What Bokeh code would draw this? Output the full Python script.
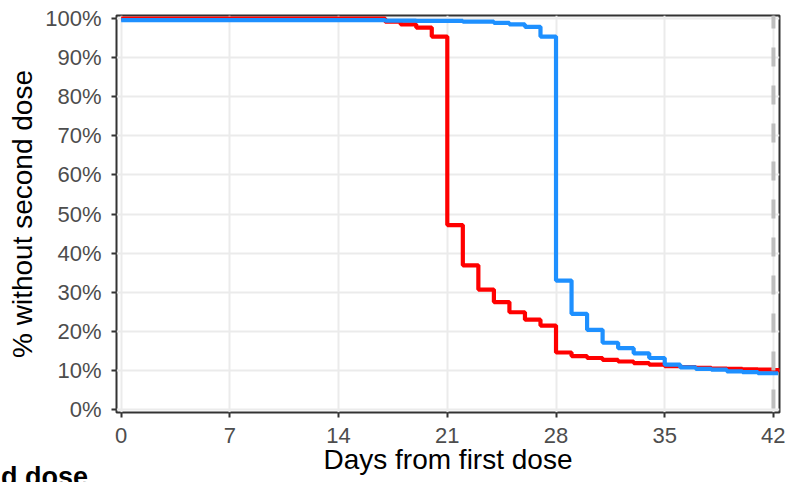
from bokeh.plotting import figure
from bokeh.layouts import column
from bokeh.models import Range1d, FixedTicker, PrintfTickFormatter, Span, Div
from bokeh.embed import file_html
from bokeh.resources import INLINE

# ---- data ----
days_red = [0, 17, 18, 19, 20, 21, 22, 23, 24, 25, 26, 27, 28, 29, 30, 31, 32, 33,
            34, 35, 36, 37, 38, 39, 40, 41, 42, 43]
pct_red = [100.0, 99.2, 98.5, 97.7, 95.4, 47.2, 36.9, 30.7, 27.5, 24.9, 23.0, 21.5,
           14.6, 13.7, 13.2, 12.7, 12.3, 11.9, 11.5, 11.1, 10.9, 10.7, 10.5, 10.4,
           10.3, 10.2, 10.1, 10.1]

days_blue = [0, 17, 19, 22, 24, 25, 26, 27, 28, 29, 30, 31, 32, 33, 34, 35, 36, 37,
             38, 39, 40, 41, 42.3]
pct_blue = [99.6, 99.5, 99.4, 99.2, 98.9, 98.5, 97.9, 95.4, 33.0, 24.5, 20.4, 17.1,
            15.7, 14.4, 13.2, 11.5, 10.8, 10.4, 10.2, 9.8, 9.6, 9.3, 9.3]

x_ticks = [0, 7, 14, 21, 28, 35, 42]
y_ticks = [0, 10, 20, 30, 40, 50, 60, 70, 80, 90, 100]
cutoff_day = 42

FONT = "Liberation Sans"

p = figure(width=785, height=482, output_backend="svg", toolbar_location=None,
           x_range=Range1d(-0.3, 42.39), y_range=Range1d(-0.74, 100.79),
           min_border_left=116, min_border_right=6, min_border_top=15,
           min_border_bottom=70, styles={"flex-shrink": "0"})

p.background_fill_color = "white"
p.border_fill_color = "white"
p.outline_line_color = "#333333"
p.outline_line_width = 2

# grid
p.xgrid.ticker = FixedTicker(ticks=x_ticks)
p.ygrid.ticker = FixedTicker(ticks=y_ticks)
for g in (p.xgrid, p.ygrid):
    g.grid_line_color = "#EBEBEB"
    g.grid_line_width = 2

# axes
p.xaxis.ticker = FixedTicker(ticks=x_ticks)
p.yaxis.ticker = FixedTicker(ticks=y_ticks)
p.yaxis.formatter = PrintfTickFormatter(format="%d%%")
for ax in (p.xaxis[0], p.yaxis[0]):
    ax.axis_line_color = None
    ax.major_tick_line_color = "#333333"
    ax.major_tick_line_width = 2
    ax.major_tick_out = 5
    ax.major_tick_in = 0
    ax.minor_tick_line_color = None
    ax.major_label_text_font = FONT
    ax.major_label_text_font_size = "22px"
    ax.major_label_text_color = "#4D4D4D"
    ax.axis_label_text_font = FONT
    ax.axis_label_text_font_size = "28px"
    ax.axis_label_text_font_style = "normal"
    ax.axis_label_text_color = "black"

p.yaxis.axis_label = "% without second dose"
p.yaxis.major_label_standoff = 10
p.yaxis.axis_label_standoff = 4
p.xaxis.axis_label = "Days from first dose"
p.xaxis.major_label_standoff = 10
p.xaxis.axis_label_standoff = -2

# curves
p.step(days_red, pct_red, mode="after", line_color="#FF0000", line_width=4.2)
p.step(days_blue, pct_blue, mode="after", line_color="#1E90FF", line_width=4.2)

# cut-off dashed line
p.add_layout(Span(location=cutoff_day, dimension="height", line_color="#BEBEBE",
                  line_width=4, line_dash="19 19", line_dash_offset=6))

# legend title (cropped at the bottom left in the reference); zero net height
legend_title = Div(text="Second dose",
                   styles={"height": "9px", "margin-top": "-9px",
                           "margin-left": "-80px", "overflow": "visible",
                           "font-family": FONT, "font-size": "27px",
                           "font-weight": "bold", "line-height": "9px",
                           "color": "black", "white-space": "nowrap"})

page = column(p, legend_title, styles={"height": "482px", "overflow": "hidden"})

open("out.html", "w").write(file_html(page, INLINE))
